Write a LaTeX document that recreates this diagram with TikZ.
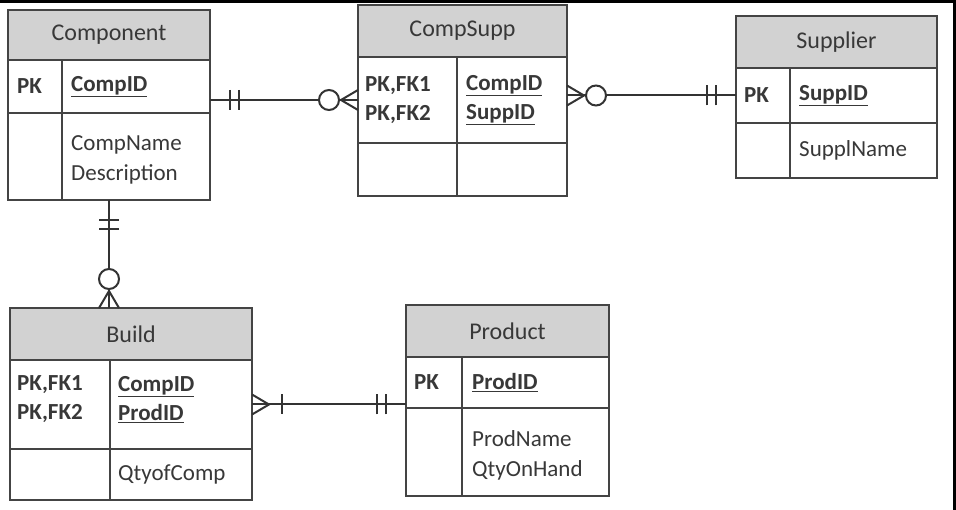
\documentclass[tikz,border=0pt]{standalone}
\usepackage{fontspec}
\setmainfont{Carlito}
\usepackage{xcolor}
\usetikzlibrary{positioning,calc}
\definecolor{headgray}{HTML}{D2D2D2}
\definecolor{linegray}{HTML}{444444}
\definecolor{textgray}{HTML}{383838}
\tikzstyle{enthead} = [draw=linegray, fill=headgray, line width=2pt, outer sep=0pt,
anchor=north west, inner sep=0pt, text=textgray, font=\fontsize{24}{29}\selectfont]
\tikzstyle{entrow} = [draw=linegray, fill=white, line width=2pt, outer sep=0pt,
anchor=north, inner sep=0pt]
\tikzstyle{keytext} = [anchor=west, inner sep=0pt, align=left, text=textgray,
font=\bfseries\fontsize{23}{29}\selectfont]
\tikzstyle{attrtext} = [anchor=west, inner sep=0pt, align=left, text=textgray,
font=\fontsize{23}{30}\selectfont]
\tikzstyle{divline} = [draw=linegray, line width=2pt]
\tikzstyle{relline} = [draw=black!80, line width=2pt]
% relation ends, drawn from the entity edge outwards along +x
\tikzset{
  pics/onlyone/.style={code={
    \draw (20,-10) -- (20,10); \draw (29,-10) -- (29,10);}},
  pics/onemany/.style={code={
    \draw (0,-10) -- (17,0) -- (0,10); \draw (30,-10) -- (30,10);}},
  pics/zeromany/.style={code={
    \draw (0,-10) -- (17,0) -- (0,10);
    \draw[fill=white] (29,0) circle[radius=10];}}
}

\begin{document}
\begin{tikzpicture}[x=1pt, y=-1pt]
    \useasboundingbox (0,0) rectangle (956,510);
    \fill[black] (0,0) rectangle (956,3);
    \fill[black] (953,0) rectangle (956,510);

    % Component
    \node[enthead, minimum width=202pt, minimum height=50pt] (comp) at (8,10) {Component};
    \node[entrow, minimum width=202pt, minimum height=53pt] (compkey) at (comp.south) {};
    \node[entrow, minimum width=202pt, minimum height=87pt] (compattr) at (compkey.south) {};
    \draw[divline] ([xshift=54pt]compkey.north west) -- ([xshift=54pt]compattr.south west);
    \node[keytext] (compk) at ([xshift=9pt]compkey.west) {PK};
    \node[keytext] (compid) at ([xshift=63pt]compkey.west) {\underline{CompID}};
    \node[attrtext] (compat) at ([xshift=63pt,yshift=-3pt]compattr.west) {CompName\\Description};

    % CompSupp
    \node[enthead, minimum width=209pt, minimum height=52pt] (csup) at (358,5) {CompSupp};
    \node[entrow, minimum width=209pt, minimum height=86pt] (csupkey) at (csup.south) {};
    \node[entrow, minimum width=209pt, minimum height=53pt] (csupattr) at (csupkey.south) {};
    \draw[divline] ([xshift=99pt]csupkey.north west) -- ([xshift=99pt]csupattr.south west);
    \node[keytext] (csupk) at ([xshift=7pt]csupkey.west) {PK,FK1\\PK,FK2};
    \node[keytext] (csupid) at ([xshift=108pt]csupkey.west) {\underline{CompID}\\\underline{SuppID}};

    % Supplier
    \node[enthead, minimum width=201pt, minimum height=52pt] (supp) at (736,16) {Supplier};
    \node[entrow, minimum width=201pt, minimum height=55pt] (suppkey) at (supp.south) {};
    \node[entrow, minimum width=201pt, minimum height=55pt] (suppattr) at (suppkey.south) {};
    \draw[divline] ([xshift=54pt]suppkey.north west) -- ([xshift=54pt]suppattr.south west);
    \node[keytext] (suppk) at ([xshift=8pt]suppkey.west) {PK};
    \node[keytext] (suppid) at ([xshift=63pt]suppkey.west) {\underline{SuppID}};
    \node[attrtext] (suppat) at ([xshift=63pt]suppattr.west) {SupplName};

    % Build
    \node[enthead, minimum width=242pt, minimum height=52pt] (build) at (10,308) {Build};
    \node[entrow, minimum width=242pt, minimum height=89pt] (buildkey) at (build.south) {};
    \node[entrow, minimum width=242pt, minimum height=51pt] (buildattr) at (buildkey.south) {};
    \draw[divline] ([xshift=100pt]buildkey.north west) -- ([xshift=100pt]buildattr.south west);
    \node[keytext] (buildk) at ([xshift=7pt,yshift=5pt]buildkey.west) {PK,FK1\\PK,FK2};
    \node[keytext] (buildid) at ([xshift=108pt,yshift=5pt]buildkey.west) {\underline{CompID}\\\underline{ProdID}};
    \node[attrtext] (buildat) at ([xshift=108pt]buildattr.west) {QtyofComp};

    % Product
    \node[enthead, minimum width=203pt, minimum height=52pt] (prod) at (406,305) {Product};
    \node[entrow, minimum width=203pt, minimum height=51pt] (prodkey) at (prod.south) {};
    \node[entrow, minimum width=203pt, minimum height=88pt] (prodattr) at (prodkey.south) {};
    \draw[divline] ([xshift=56pt]prodkey.north west) -- ([xshift=56pt]prodattr.south west);
    \node[keytext] (prodk) at ([xshift=8pt]prodkey.west) {PK};
    \node[keytext] (prodid) at ([xshift=66pt]prodkey.west) {\underline{ProdID}};
    \node[attrtext] (prodat) at ([xshift=66pt,yshift=-3pt]prodattr.west) {ProdName\\QtyOnHand};

    % relations
    \draw[relline] (compkey.east |- csupkey.west) -- (csupkey.west);
    \pic[relline] at (compkey.east |- csupkey.west) {onlyone};
    \pic[relline, rotate=180] at (csupkey.west) {zeromany};

    \draw[relline] (csupkey.east |- suppkey.west) -- (suppkey.west);
    \pic[relline] at (csupkey.east |- suppkey.west) {zeromany};
    \pic[relline, rotate=180] at (suppkey.west) {onlyone};

    \draw[relline] (compattr.south) -- (compattr.south |- build.north);
    \pic[relline, rotate=-90] at (compattr.south) {onlyone};
    \pic[relline, rotate=90] at (compattr.south |- build.north) {zeromany};

    \draw[relline] (buildkey.east) -- (buildkey.east -| prodkey.west);
    \pic[relline] at (buildkey.east) {onemany};
    \pic[relline, rotate=180] at (buildkey.east -| prodkey.west) {onlyone};
\end{tikzpicture}
\end{document}
